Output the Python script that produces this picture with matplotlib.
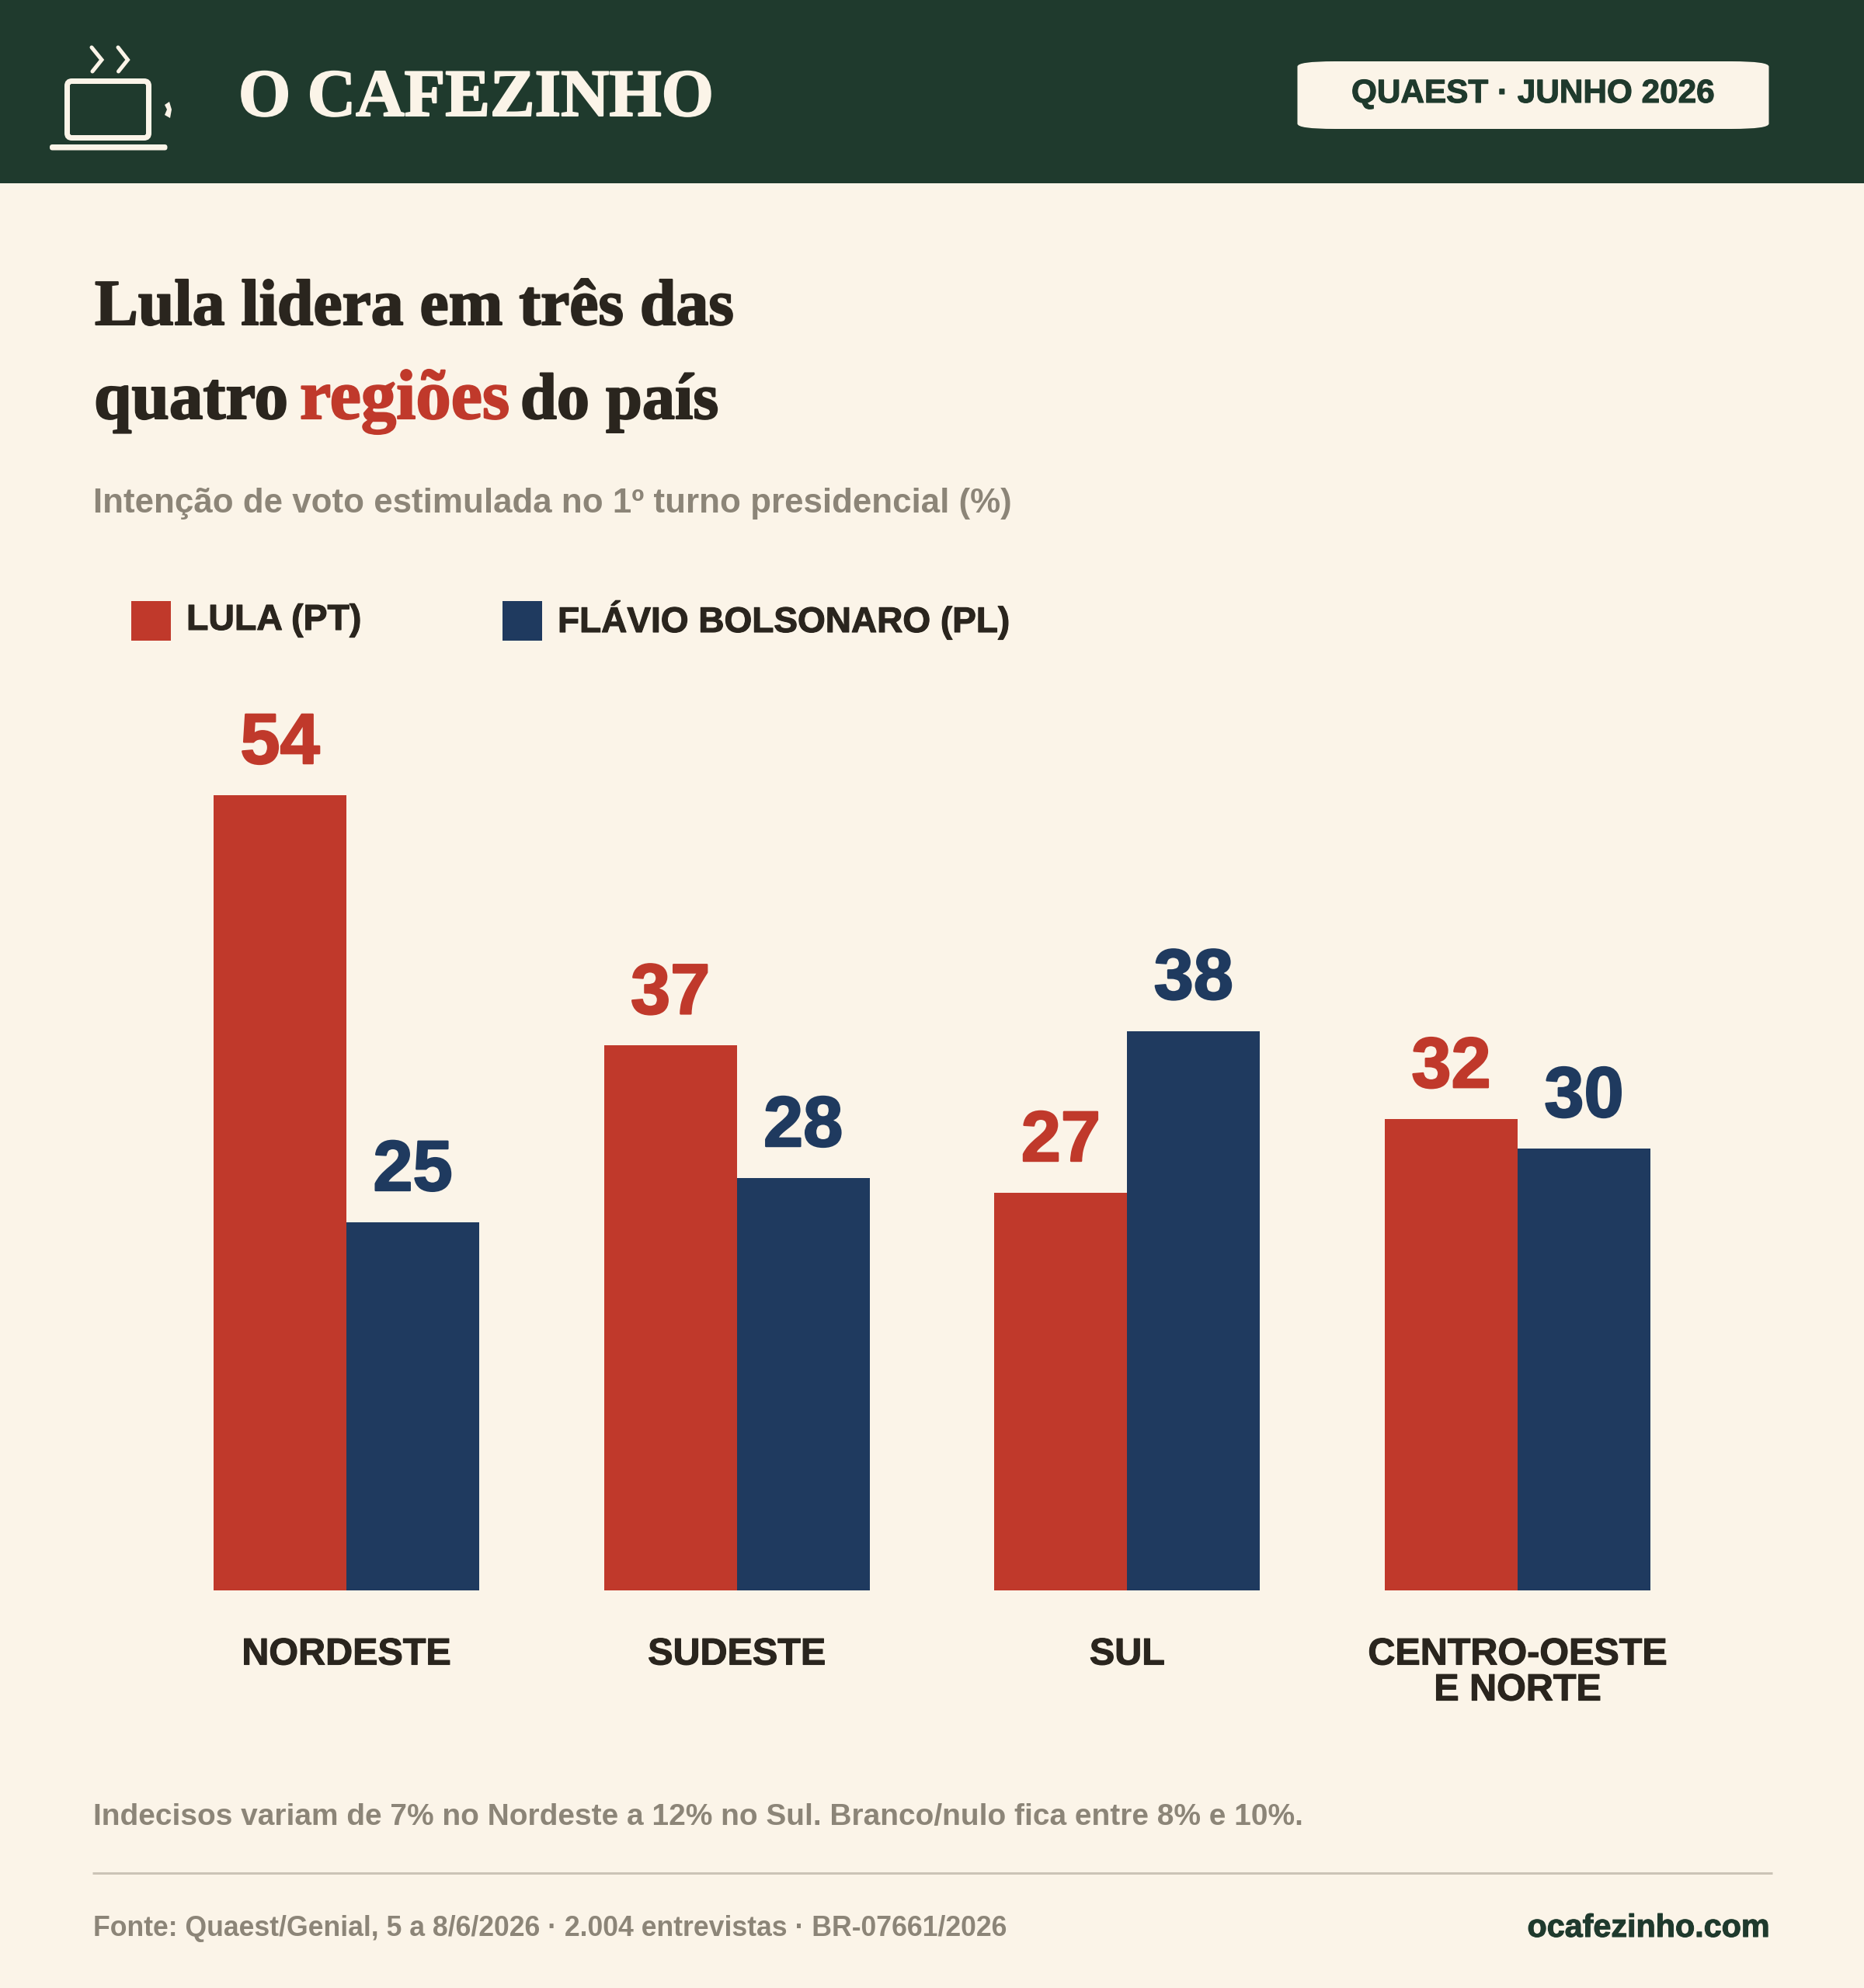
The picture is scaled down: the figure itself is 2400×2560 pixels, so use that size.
import matplotlib
matplotlib.use("Agg")
import matplotlib.pyplot as plt
from matplotlib.patches import FancyBboxPatch, Polygon, Rectangle
from matplotlib.lines import Line2D
from matplotlib.transforms import Affine2D
import matplotlib.patheffects as pe
import numpy as np

# Survey results by region (%)
regions = ["NORDESTE", "SUDESTE", "SUL", "CENTRO-OESTE\nE NORTE"]
lula = [54, 37, 27, 32]
flavio = [25, 28, 38, 30]
series_names = ["LULA (PT)", "FLÁVIO BOLSONARO (PL)"]

W, H = 2400, 2560
CREAM = "#FBF4E8"
GREEN = "#1F3A2D"
RED = "#C0392B"
BLUE = "#1F3A5F"
INK = "#2A251E"
GREY = "#8C8578"
RULE = "#CBC3B6"
SANS = "Liberation Sans"
SERIF = "Liberation Serif"

fig = plt.figure(figsize=(W / 100, H / 100), dpi=100, facecolor=CREAM)
renderer = fig.canvas.get_renderer()
# Page coordinates in pixels, origin at the top left
page = Affine2D().scale(1, -1).translate(0, H)


def label(x, baseline, s, width, color, family=SANS, stroke=0, ha="left"):
    """Write one line of text, sized so its run spans the given width."""
    t = fig.text(x, baseline, s, transform=page, family=family, weight="bold",
                 color=color, fontsize=30, ha=ha, va="baseline")
    t.set_fontsize(30 * width / t.get_window_extent(renderer).width)
    if stroke:
        t.set_path_effects([pe.withStroke(linewidth=stroke, foreground=color)])
    return t


def shape(patch):
    patch.set_transform(page)
    fig.add_artist(patch)


def stroke_line(xs, ys, lw, color=CREAM):
    fig.add_artist(Line2D(xs, ys, transform=page, color=color, lw=lw * 0.72,
                          solid_capstyle="round", solid_joinstyle="miter"))


# Header band
shape(Rectangle((0, 0), W, 236, facecolor=GREEN, edgecolor="none"))

# Coffee cup mark
shape(FancyBboxPatch((86.5, 104.5), 105, 73, boxstyle="round,pad=0,rounding_size=6",
                     facecolor="none", edgecolor=CREAM, lw=7 * 0.72))
shape(FancyBboxPatch((64, 186), 151.5, 7.5, boxstyle="round,pad=0,rounding_size=3.5",
                     facecolor=CREAM, edgecolor="none"))
stroke_line([118, 131, 119], [61, 77, 92], 5)
stroke_line([152, 164.5, 152.5], [61, 77, 92], 5)
shape(Polygon([(212, 135), (218, 131), (221, 141), (219, 152), (212, 148), (215, 141)],
              closed=True, facecolor=CREAM, edgecolor="none"))

label(307, 149, "O CAFEZINHO", 611, CREAM, family=SERIF, stroke=1.5)

# Survey badge
shape(FancyBboxPatch((1670.5, 79), 607, 87, boxstyle="round,pad=0,rounding_size=48",
                     mutation_aspect=0.14, facecolor=CREAM, edgecolor="none"))
label(1740, 132, "QUAEST · JUNHO 2026", 467, GREEN, stroke=0.8)

# Headline
label(122, 418, "Lula lidera em três das", 822, INK, family=SERIF, stroke=1.5)
label(121, 539, "quatro", 250, INK, family=SERIF, stroke=1.5)
label(386, 539, "regiões", 270, RED, family=SERIF, stroke=1.5)
label(670, 539, "do país", 255, INK, family=SERIF, stroke=1.5)

label(120, 660, "Intenção de voto estimulada no 1º turno presidencial (%)", 1183, GREY)

# Legend
shape(Rectangle((169, 774), 51, 51, facecolor=RED, edgecolor="none"))
shape(Rectangle((647, 774), 51, 51, facecolor=BLUE, edgecolor="none"))
label(240, 811, series_names[0], 225, INK, stroke=0.8)
label(718, 814, series_names[1], 581, INK, stroke=0.8)

# Bars: one group per region, plotted on a value axis starting at the baseline
PX_PER_GROUP = 502.67
PX_PER_POINT = 18.96
ZERO_X, ZERO_Y = 446, 2048
TOP_VALUE = 60
ax = fig.add_axes([0, 1 - ZERO_Y / H, 1, TOP_VALUE * PX_PER_POINT / H])
ax.set_xlim(-ZERO_X / PX_PER_GROUP, (W - ZERO_X) / PX_PER_GROUP)
ax.set_ylim(0, TOP_VALUE)
ax.patch.set_visible(False)
for side in ax.spines.values():
    side.set_visible(False)
ax.set_yticks([])

x = np.arange(len(regions))
bar_w = 171 / PX_PER_GROUP
for offset, values, color in ((-bar_w / 2, lula, RED), (bar_w / 2, flavio, BLUE)):
    bars = ax.bar(x + offset, values, width=bar_w, color=color, linewidth=0)
    for rect, value in zip(bars, values):
        ax.annotate(str(value), (rect.get_x() + rect.get_width() / 2, value),
                    xytext=(0, 41 * 0.72), textcoords="offset points",
                    ha="center", va="baseline", color=color,
                    family=SANS, weight="bold", fontsize=92 * 0.72,
                    path_effects=[pe.withStroke(linewidth=1.6, foreground=color)])

ax.set_xticks(x, regions)
ax.tick_params(axis="x", length=0, pad=60.5 * 0.72)
for tick in ax.get_xticklabels():
    tick.set(family=SANS, weight="bold", fontsize=48.5 * 0.72, color=INK,
             linespacing=1.03, ha="center", va="top",
             path_effects=[pe.withStroke(linewidth=0.8, foreground=INK)])

# Footer
label(120, 2350, "Indecisos variam de 7% no Nordeste a 12% no Sul. Branco/nulo fica entre 8% e 10%.", 1557, GREY)
fig.add_artist(Line2D([119, 2282], [2412, 2412], transform=page, color=RULE, lw=3 * 0.72,
                      solid_capstyle="butt"))
label(120, 2493, "Fonte: Quaest/Genial, 5 a 8/6/2026 · 2.004 entrevistas · BR-07661/2026", 1178, GREY)
label(2278, 2494, "ocafezinho.com", 312, GREEN, ha="right", stroke=0.8)

fig.savefig("out.png", dpi=100, facecolor=CREAM)
